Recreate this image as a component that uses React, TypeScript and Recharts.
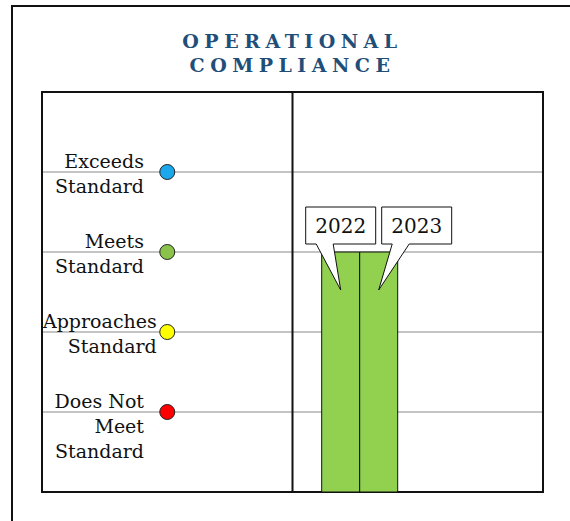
import React from 'react';
import {
  ComposedChart, Bar, Scatter, Cell, XAxis, YAxis, CartesianGrid, ReferenceArea, ReferenceLine
} from 'recharts';

// compliance levels, bottom to top
const levelNames = ['Does Not Meet Standard', 'Approaches Standard', 'Meets Standard', 'Exceeds Standard'];
const levelValues = [1, 2, 3, 4];
const levelColors = ['#ff0000', '#ffff00', '#8bc34a', '#1aa7ec'];

// years and their rating (3 = Meets Standard)
const years = ['2022', '2023'];
const yearRatings = [3, 3];
const yearColor = '#92d050';

// x positions on the two-panel scale: 0..1 = legend panel, 1..2 = results panel
const legendX = 0.5;
const resultsX = 1.27;

const FONT = '"DejaVu Serif", serif';

const dotData = levelValues.map((v, i) => ({ x: legendX, y: v, name: levelNames[i] }));
const barData = [
  years.reduce((row: any, yr, i) => ({ ...row, [yr]: yearRatings[i] }), { x: resultsX })
];

let ctx: CanvasRenderingContext2D | null = null;
const measure = (s: string, font: string) => {
  if (!ctx) ctx = document.createElement('canvas').getContext('2d');
  if (!ctx) return s.length * 10;
  ctx.font = font;
  return ctx.measureText(s).width;
};

const splitName = (name: string) => {
  if (name === 'Does Not Meet Standard') return ['Does Not', 'Meet', 'Standard'];
  const parts = name.split(' ');
  return [parts.slice(0, -1).join(' '), parts[parts.length - 1]];
};

const LevelTick = (props: any) => {
  const { y, payload } = props;
  const idx = levelValues.indexOf(Number(payload && payload.value));
  if (idx < 0) return null;
  const left = 42;
  const lines = splitName(levelNames[idx]);
  const widest = Math.max(...lines.map((l) => measure(l, `19px ${FONT}`)));
  const right = Math.max(left + 102, left + widest + 1);
  return (
    <text x={right} y={y - 4} textAnchor="end" fontFamily={FONT} fontSize={19} fill="#111">
      {lines.map((l, i) => (
        <tspan key={i} x={right} dy={i === 0 ? 0 : 25}>{l}</tspan>
      ))}
    </text>
  );
};

const callout = (text: string, shift: number) => (props: any) => {
  const { x, y, width } = props;
  const cx = x + width / 2;
  const bx = cx + shift * width;
  const bw = 70;
  const bh = 37;
  const bottom = y - 8;
  const top = bottom - bh;
  const d = `M${bx - bw / 2},${top} L${bx + bw / 2},${top} L${bx + bw / 2},${bottom} L${bx - 7.5},${bottom} L${cx},${y + 38} L${bx - 24.5},${bottom} L${bx - bw / 2},${bottom} Z`;
  return (
    <g>
      <path d={d} fill="#fff" stroke="#111" strokeWidth={1} />
      <text x={bx} y={top + 26} textAnchor="middle" fontFamily={FONT} fontSize={20} fill="#111">{text}</text>
    </g>
  );
};

const titleStyle: React.CSSProperties = {
  position: 'absolute', left: 42, width: 501, textAlign: 'center',
  fontFamily: FONT, fontWeight: 'bold', fontSize: 19, lineHeight: '24px',
  letterSpacing: 5.5, color: '#1f4e79'
};

export default function App() {
  return (
    <div style={{ position: 'absolute', left: 0, top: 0, width: 570, height: 521, overflow: 'hidden', background: '#fff' }}>
      <div style={{ position: 'absolute', left: 11, top: 5, width: 700, height: 700, border: '2px solid #111' }} />
      <div style={{ ...titleStyle, top: 29 }}>OPERATIONAL<br />COMPLIANCE</div>
      <div style={{ position: 'absolute', left: 0, top: 0 }}>
        <ComposedChart width={570} height={521} data={barData} margin={{ top: 92, right: 27, bottom: 29, left: 2 }} barGap={0}>
          <CartesianGrid vertical={false} stroke="#c4c4c4" strokeWidth={2} />
          <XAxis dataKey="x" type="number" domain={[0, 2]} ticks={[0, 1, 2]} hide />
          <YAxis type="number" domain={[0, 5]} ticks={levelValues} width={40} axisLine={false} tickLine={false}
            tick={<LevelTick />} interval={0} />
          {years.map((yr, i) => (
            <Bar key={yr} dataKey={yr} fill={yearColor} stroke="#111" strokeWidth={1} barSize={38}
              isAnimationActive={false} label={callout(yr, i)} />
          ))}
          <Scatter data={dotData} dataKey="y" isAnimationActive={false} shape={(p: any) => (
            <circle cx={p.cx} cy={p.cy} r={7.5} fill={p.fill} stroke="#222" strokeWidth={1} />
          )}>
            {dotData.map((d, i) => <Cell key={d.name} fill={levelColors[i]} />)}
          </Scatter>
          <ReferenceLine x={1} stroke="#111" strokeWidth={2} />
          <ReferenceArea x1={0} x2={2} y1={0} y2={5} fill="none" stroke="#111" strokeWidth={2} />
        </ComposedChart>
      </div>
    </div>
  );
}
